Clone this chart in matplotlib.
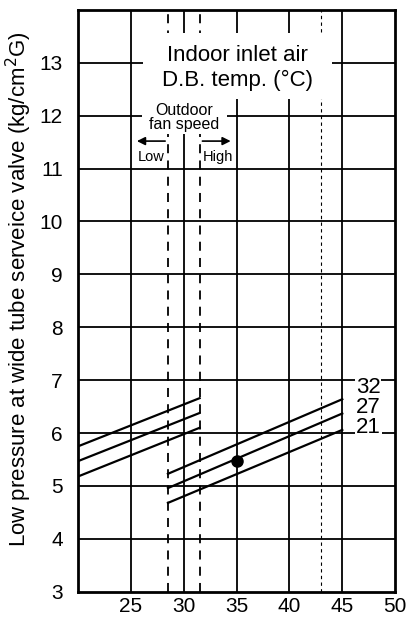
import numpy as np
import matplotlib.pyplot as plt
from matplotlib.patches import Rectangle

plt.rcParams['font.family'] = ['Liberation Sans', 'DejaVu Sans']

# indoor inlet air D.B. temperature curves
temps = ['32', '27', '21']
# low fan speed branch (x 20 -> 31.5)
low_x = [20, 31.5]
low_start = [5.75, 5.47, 5.18]
low_end = [6.66, 6.38, 6.10]
# high fan speed branch (x 28.5 -> 45)
high_x = [28.5, 45]
high_start = [5.23, 4.96, 4.68]
high_end = [6.64, 6.37, 6.06]
label_y = [6.87, 6.49, 6.11]
# rated point
pt_x, pt_y = 35, 5.48

xticks = [25, 30, 35, 40, 45, 50]
yticks = list(range(3, 14))

fig = plt.figure(figsize=(4.09, 6.19), dpi=100)
ax = fig.add_axes([0.191, 0.044, 0.775, 0.94])
ax.set_xlim(20, 50)
ax.set_ylim(3, 14)

for x in xticks[:-1]:
    ax.axvline(x, color='black', lw=1.3, zorder=1)
for y in yticks[1:]:
    ax.axhline(y, color='black', lw=1.3, zorder=1)

ax.axvline(28.5, color='black', lw=1.3, ls=(0, (5, 4)), zorder=1)
ax.axvline(31.5, color='black', lw=1.3, ls=(0, (5, 4)), zorder=1)
ax.axvline(43, color='black', lw=0.8, ls=(0, (3, 3)), zorder=1)

# white areas behind the annotation texts
ax.add_patch(Rectangle((26.1, 12.31), 17.9, 1.25, facecolor='white', edgecolor='none', zorder=2))
ax.add_patch(Rectangle((26.05, 11.65), 8.05, 0.66, facecolor='white', edgecolor='none', zorder=2))

for i in range(3):
    ax.plot(low_x, [low_start[i], low_end[i]], color='black', lw=1.6, zorder=3)
    ax.plot(high_x, [high_start[i], high_end[i]], color='black', lw=1.6, zorder=3)
    ax.text(46.3, label_y[i], temps[i], fontsize=16, ha='left', va='center',
            bbox=dict(facecolor='white', edgecolor='none', pad=0.5), zorder=4)

ax.plot(pt_x, pt_y, 'o', color='black', ms=8, zorder=5)

ax.text(35.1, 12.9, 'Indoor inlet air\nD.B. temp. (°C)', fontsize=16,
        ha='center', va='center', linespacing=1.25, zorder=4)
ax.text(30.0, 11.97, 'Outdoor\nfan speed', fontsize=11.5, ha='center', va='center',
        linespacing=0.9, zorder=4)
ax.annotate('', xy=(25.3, 11.52), xytext=(28.5, 11.52),
            arrowprops=dict(arrowstyle='-|>', color='black', lw=1.2, mutation_scale=12), zorder=4)
ax.annotate('', xy=(34.7, 11.52), xytext=(31.5, 11.52),
            arrowprops=dict(arrowstyle='-|>', color='black', lw=1.2, mutation_scale=12), zorder=4)
ax.text(26.9, 11.22, 'Low', fontsize=10.5, ha='center', va='center',
        bbox=dict(facecolor='white', edgecolor='none', pad=1), zorder=4)
ax.text(33.2, 11.22, 'High', fontsize=10.5, ha='center', va='center',
        bbox=dict(facecolor='white', edgecolor='none', pad=1), zorder=4)

ax.set_xticks(xticks)
ax.set_yticks(yticks)
ax.tick_params(length=0, labelsize=15)
ax.tick_params(axis='y', pad=11)
ax.tick_params(axis='x', pad=4)
for s in ax.spines.values():
    s.set_linewidth(2)
ax.set_ylabel('Low pressure at wide tube serveice valve (kg/cm$^2$G)', fontsize=16)
ax.yaxis.set_label_coords(-0.14, 0.52)

fig.savefig('out.png', dpi=100)
